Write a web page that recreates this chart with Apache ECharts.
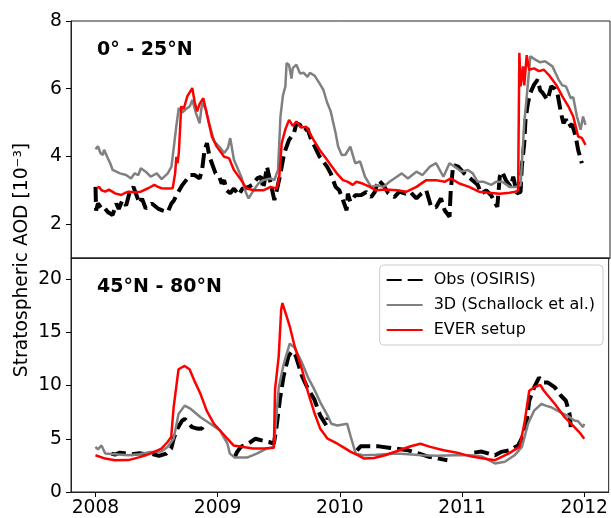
<!DOCTYPE html>
<html><head><meta charset="utf-8">
<script src="https://cdn.jsdelivr.net/npm/echarts@6/dist/echarts.min.js"></script>
<style>html,body{margin:0;padding:0;background:#fff}#c{width:611px;height:518px}</style>
</head><body><div id="c"></div><script>
// ---------- data (decimal years, AOD in 1e-3) ----------
const xTicks = [2008, 2009, 2010, 2011, 2012];
const topTicks = [2, 4, 6, 8];
const botTicks = [0, 5, 10, 15, 20];
const seriesNames = ['Obs (OSIRIS)', '3D (Schallock et al.)', 'EVER setup'];
const panelTitles = ['0° - 25°N', '45°N - 80°N'];

// Top panel: 0-25N
const topObsX = [2008.00,2008.005,2008.02,2008.05,2008.07,2008.10,2008.14,2008.17,2008.19,2008.22,2008.25,2008.28,2008.31,2008.33,2008.36,2008.38,2008.41,2008.46,2008.51,2008.55,2008.59,2008.62,2008.64,2008.67,2008.71,2008.74,2008.77,2008.81,2008.85,2008.87,2008.89,2008.91,2008.93,2008.95,2008.98,2009.01,2009.03,2009.05,2009.07,2009.10,2009.13,2009.17,2009.20,2009.25,2009.28,2009.32,2009.35,2009.37,2009.40,2009.43,2009.46,2009.48,2009.51,2009.54,2009.58,2009.62,2009.64,2009.67,2009.70,2009.73,2009.76,2009.79,2009.83,2009.85,2009.89,2009.92,2009.96,2009.99,2010.02,2010.05,2010.06,2010.08,2010.12,2010.17,2010.21,2010.25,2010.28,2010.31,2010.35,2010.39,2010.44,2010.48,2010.53,2010.57,2010.62,2010.66,2010.70,2010.74,2010.78,2010.82,2010.85,2010.89,2010.90,2010.92,2010.96,2011.01,2011.06,2011.12,2011.15,2011.19,2011.23,2011.28,2011.30,2011.32,2011.35,2011.39,2011.41,2011.44,2011.47,2011.48,2011.50,2011.51,2011.53,2011.55,2011.58,2011.61,2011.63,2011.65,2011.69,2011.72,2011.75,2011.77,2011.80,2011.82,2011.84,2011.86,2011.89,2011.92,2011.94,2011.97];
const topObsY = [3.10,2.40,2.61,2.46,2.50,2.36,2.27,2.61,2.45,2.71,2.55,2.96,3.10,2.90,2.61,2.75,2.46,2.61,2.46,2.40,2.36,2.61,2.70,2.91,3.16,3.30,3.45,3.45,3.35,3.60,4.19,4.39,4.00,3.80,3.50,3.40,3.20,3.30,3.00,2.91,3.05,2.86,3.05,3.10,3.16,3.35,3.40,3.05,3.70,3.20,2.71,3.00,3.50,4.09,4.49,4.69,4.98,4.93,4.75,4.83,4.50,4.29,3.99,3.90,3.70,3.50,3.10,3.00,2.71,2.41,2.90,2.66,2.85,2.86,2.95,2.80,2.95,3.30,3.15,2.91,2.80,2.96,2.90,2.95,2.76,2.90,3.00,2.51,2.50,2.76,2.41,2.22,3.00,3.75,3.70,3.50,3.35,3.16,2.90,3.00,2.85,2.51,3.40,3.55,3.30,3.10,3.40,2.91,2.95,3.70,4.39,5.08,5.58,5.88,6.12,6.27,5.95,5.88,5.67,6.07,6.00,5.88,5.28,4.98,5.10,4.88,4.95,4.59,4.19,3.80];

const top3dX = [2008.00,2008.02,2008.04,2008.06,2008.07,2008.10,2008.12,2008.14,2008.17,2008.20,2008.25,2008.29,2008.32,2008.35,2008.37,2008.41,2008.45,2008.50,2008.54,2008.59,2008.62,2008.64,2008.66,2008.68,2008.71,2008.74,2008.77,2008.79,2008.82,2008.85,2008.87,2008.90,2008.93,2008.97,2009.01,2009.05,2009.08,2009.10,2009.13,2009.16,2009.19,2009.23,2009.25,2009.29,2009.33,2009.37,2009.43,2009.46,2009.49,2009.51,2009.53,2009.55,2009.56,2009.58,2009.60,2009.61,2009.64,2009.67,2009.70,2009.73,2009.75,2009.79,2009.83,2009.86,2009.89,2009.92,2009.96,2009.98,2010.01,2010.04,2010.08,2010.12,2010.16,2010.20,2010.25,2010.30,2010.35,2010.40,2010.46,2010.50,2010.55,2010.62,2010.67,2010.73,2010.78,2010.84,2010.89,2010.93,2010.99,2011.04,2011.08,2011.12,2011.17,2011.23,2011.27,2011.32,2011.38,2011.43,2011.47,2011.50,2011.53,2011.55,2011.59,2011.63,2011.67,2011.73,2011.78,2011.81,2011.84,2011.88,2011.90,2011.93,2011.96,2011.98,2012.00];
const top3dY = [4.21,4.30,4.10,4.04,4.20,3.95,3.80,3.60,3.55,3.50,3.45,3.35,3.50,3.45,3.65,3.55,3.40,3.50,3.33,3.50,3.70,4.29,4.90,5.43,5.30,5.40,5.48,5.67,5.28,4.98,5.58,5.40,4.95,4.44,4.29,4.10,4.24,4.54,3.90,3.65,3.40,2.91,2.76,3.00,3.20,3.30,3.35,3.30,3.60,5.18,5.80,6.07,6.76,6.70,6.30,6.61,6.71,6.45,6.47,6.35,6.47,6.38,6.15,5.97,5.60,5.33,4.69,4.30,4.04,4.05,4.29,3.80,3.85,3.40,3.10,3.15,3.10,3.25,3.40,3.50,3.35,3.55,3.45,3.70,3.80,3.40,3.80,3.70,3.55,3.60,3.50,3.25,3.25,3.16,3.25,3.25,3.10,3.10,3.15,4.98,6.16,6.96,6.86,6.78,6.81,6.66,6.27,6.10,6.07,5.72,5.75,5.18,4.79,5.18,4.93];

const topEverX = [2008.01,2008.03,2008.05,2008.08,2008.11,2008.16,2008.21,2008.24,2008.27,2008.32,2008.37,2008.43,2008.48,2008.51,2008.54,2008.59,2008.63,2008.65,2008.66,2008.67,2008.68,2008.70,2008.72,2008.75,2008.79,2008.81,2008.83,2008.85,2008.88,2008.91,2008.95,2008.99,2009.05,2009.09,2009.13,2009.19,2009.23,2009.29,2009.37,2009.43,2009.48,2009.50,2009.52,2009.55,2009.58,2009.61,2009.64,2009.68,2009.72,2009.78,2009.83,2009.89,2009.92,2009.97,2010.02,2010.06,2010.10,2010.13,2010.18,2010.24,2010.29,2010.37,2010.46,2010.54,2010.62,2010.70,2010.78,2010.85,2010.90,2010.97,2011.05,2011.13,2011.21,2011.30,2011.38,2011.43,2011.45,2011.46,2011.47,2011.49,2011.50,2011.52,2011.54,2011.58,2011.62,2011.66,2011.70,2011.76,2011.81,2011.86,2011.90,2011.94,2011.97,2012.00];
const topEverY = [3.06,3.10,3.00,2.96,3.02,2.91,2.86,2.92,2.96,2.94,2.96,3.06,3.16,3.10,3.06,3.05,3.06,3.50,3.99,3.80,4.10,5.48,5.40,5.78,6.02,5.60,5.33,5.55,5.72,5.23,4.59,4.29,3.99,3.95,3.60,3.30,3.06,3.00,3.00,3.10,3.05,3.40,4.39,4.80,5.08,4.90,5.03,4.85,4.88,4.49,4.19,3.90,3.75,3.50,3.30,3.25,3.16,3.25,3.20,3.10,3.00,3.02,3.00,2.96,3.10,3.30,3.30,3.25,3.35,3.20,3.10,2.96,2.93,2.90,2.93,2.96,3.00,7.06,6.07,6.66,6.10,6.99,6.56,6.60,6.52,6.56,6.41,6.12,5.78,5.48,5.18,4.59,4.55,4.34];

// Bottom panel: 45N-80N (null = no observation)
const botObsX = [2008.13,2008.16,2008.20,2008.25,2008.30,2008.36,2008.41,2008.46,2008.52,2008.58,2008.62,2008.64,2008.67,2008.71,2008.73,2008.76,2008.79,2008.82,2008.85,2008.87,2008.89,2008.90,2009.00,2009.14,2009.16,2009.19,2009.25,2009.31,2009.36,2009.42,2009.46,2009.48,2009.51,2009.54,2009.58,2009.61,2009.64,2009.69,2009.74,2009.79,2009.84,2009.89,2009.90,2010.00,2010.14,2010.17,2010.24,2010.32,2010.40,2010.48,2010.56,2010.65,2010.73,2010.81,2010.88,2011.00,2011.10,2011.16,2011.22,2011.27,2011.32,2011.39,2011.46,2011.50,2011.53,2011.55,2011.59,2011.63,2011.66,2011.70,2011.76,2011.81,2011.85,2011.88,2011.89];
const botObsY = [3.61,3.52,3.70,3.61,3.55,3.65,3.55,3.60,3.39,3.61,4.08,5.01,5.94,6.72,6.88,6.50,6.10,6.00,5.94,6.00,5.63,5.48,null,3.30,3.77,4.24,4.54,5.01,4.85,4.70,4.54,5.94,8.74,10.91,12.78,13.25,12.78,10.91,9.67,8.74,7.18,6.25,7.00,null,3.92,4.29,4.29,4.29,4.17,4.05,3.92,3.61,3.30,3.14,2.99,null,3.70,3.80,3.60,3.45,3.77,3.92,4.38,5.32,6.72,8.58,9.83,10.76,10.30,10.30,9.83,9.05,8.58,7.34,6.10];

const bot3dX = [2008.00,2008.02,2008.05,2008.08,2008.16,2008.27,2008.36,2008.45,2008.54,2008.59,2008.64,2008.68,2008.73,2008.78,2008.86,2008.94,2009.02,2009.08,2009.10,2009.14,2009.24,2009.32,2009.40,2009.46,2009.50,2009.54,2009.59,2009.63,2009.69,2009.74,2009.79,2009.84,2009.90,2009.93,2009.98,2010.06,2010.09,2010.13,2010.19,2010.30,2010.46,2010.56,2010.67,2010.80,2010.94,2011.08,2011.16,2011.27,2011.35,2011.43,2011.49,2011.54,2011.59,2011.65,2011.69,2011.73,2011.78,2011.86,2011.92,2011.95,2011.99,2012.00];
const bot3dY = [4.24,4.00,4.38,3.61,3.55,3.45,3.55,3.77,3.80,4.24,5.01,7.34,8.12,7.81,7.03,6.41,5.78,4.54,3.61,3.24,3.24,3.61,4.08,4.24,9.83,12.00,13.95,13.56,12.16,10.76,9.67,8.43,7.18,6.41,6.25,6.41,5.17,3.61,3.45,3.50,3.61,3.55,3.45,3.40,3.45,3.45,3.35,2.68,2.84,3.45,4.24,6.41,7.65,8.27,8.10,7.97,7.65,7.18,6.72,6.65,6.10,6.40];

const botEverX = [2008.00,2008.08,2008.16,2008.27,2008.37,2008.45,2008.54,2008.59,2008.62,2008.64,2008.68,2008.73,2008.77,2008.81,2008.86,2008.91,2008.97,2009.02,2009.08,2009.13,2009.21,2009.29,2009.38,2009.46,2009.47,2009.50,2009.52,2009.53,2009.56,2009.59,2009.63,2009.69,2009.74,2009.79,2009.84,2009.90,2009.98,2010.03,2010.09,2010.15,2010.20,2010.28,2010.37,2010.47,2010.58,2010.66,2010.74,2010.85,2010.96,2011.07,2011.15,2011.27,2011.38,2011.47,2011.51,2011.55,2011.59,2011.64,2011.67,2011.76,2011.84,2011.92,2011.97,2012.00];
const botEverY = [3.45,3.14,2.99,3.00,3.30,3.61,4.08,4.70,5.17,7.97,11.54,11.85,11.54,10.45,9.21,7.65,6.41,5.78,5.01,4.38,4.24,4.08,4.10,4.15,9.67,12.78,17.14,17.76,16.67,15.58,13.71,11.54,9.37,7.50,5.94,5.01,4.54,4.20,3.77,3.45,3.14,3.20,3.45,3.85,4.30,4.54,4.24,3.92,3.70,3.35,3.20,2.99,3.61,4.24,6.41,9.52,9.83,10.08,9.52,8.27,7.03,6.10,5.48,5.01];

// ---------- chart ----------
const FONT = 'DejaVu Sans';
const zip = (xs, ys) => xs.map((x, i) => [x, ys[i] === null ? '-' : ys[i]]);
const styles = [
  {color: '#000000', width: 4, type: [15, 6]},
  {color: '#808080', width: 2.5, type: 'solid'},
  {color: '#ff0000', width: 2.5, type: 'solid'}
];
function mk(name, idx, data, styleIdx, z) {
  const s = styles[styleIdx];
  return {
    type: 'line', name: name, xAxisIndex: idx, yAxisIndex: idx, data: data,
    showSymbol: false, symbol: 'none', z: z,
    lineStyle: {color: s.color, width: s.width, type: s.type},
    itemStyle: {color: s.color}, connectNulls: false, animation: false
  };
}
const xBase = (idx, showLabels) => ({
  type: 'value', gridIndex: idx, min: 2007.8, max: 2012.2,
  splitLine: {show: false},
  axisLine: {show: true, lineStyle: {color: '#222', width: 1}},
  axisTick: {show: showLabels, inside: false, length: 5, lineStyle: {color: '#000'}, customValues: xTicks},
  axisLabel: {show: showLabels, customValues: xTicks, margin: 7, color: '#000', fontSize: 18.7, fontFamily: FONT,
    formatter: v => String(Math.round(v))}
});
const yBase = (idx, min, max, ticks) => ({
  type: 'value', gridIndex: idx, min: min, max: max,
  splitLine: {show: false},
  axisLine: {show: true, lineStyle: {color: '#222', width: 1}},
  axisTick: {show: true, inside: false, length: 5, lineStyle: {color: '#000'}, customValues: ticks},
  axisLabel: {show: true, customValues: ticks, margin: 9, color: '#000', fontSize: 18.7, fontFamily: FONT,
    formatter: v => String(Math.round(v))}
});

const chart = echarts.init(document.getElementById('c'), null, {renderer: 'canvas'});
chart.setOption({
  animation: false,
  backgroundColor: '#fff',
  grid: [
    {left: 71, top: 21, width: 539, height: 237, show: true, borderColor: '#222', borderWidth: 1, backgroundColor: 'transparent'},
    {left: 71, top: 258, width: 539, height: 236, show: true, borderColor: '#222', borderWidth: 1, backgroundColor: 'transparent'}
  ],
  xAxis: [xBase(0, false), xBase(1, true)],
  yAxis: [yBase(0, 1, 8, topTicks), yBase(1, 0, 22, botTicks)],
  legend: {
    orient: 'vertical', right: 8, top: 265,
    data: seriesNames,
    backgroundColor: 'rgba(255,255,255,0.85)', borderColor: '#cccccc', borderWidth: 1, borderRadius: 4,
    padding: [7, 8, 7, 6], itemWidth: 36, itemHeight: 14, itemGap: 9,
    itemStyle: {opacity: 0, borderWidth: 0},
    textStyle: {fontSize: 16, fontFamily: FONT, color: '#000', padding: [0, 0, 0, 6]}
  },
  graphic: [
    {type: 'text', x: 22, y: 260, rotation: Math.PI / 2,
      style: {text: 'Stratospheric AOD [10⁻³]', fontSize: 18.7, fontFamily: FONT, fill: '#000', align: 'center', verticalAlign: 'middle'}},
    {type: 'text', x: 97, y: 50, z: 10,
      style: {text: panelTitles[0], fontSize: 19, fontWeight: 'bold', fontFamily: FONT, fill: '#000', align: 'left', verticalAlign: 'middle'}},
    {type: 'text', x: 97, y: 287, z: 10,
      style: {text: panelTitles[1], fontSize: 19, fontWeight: 'bold', fontFamily: FONT, fill: '#000', align: 'left', verticalAlign: 'middle'}}
  ],
  series: [
    mk(seriesNames[0], 0, zip(topObsX, topObsY), 0, 2),
    mk(seriesNames[1], 0, zip(top3dX, top3dY), 1, 3),
    mk(seriesNames[2], 0, zip(topEverX, topEverY), 2, 4),
    mk(seriesNames[0], 1, zip(botObsX, botObsY), 0, 2),
    mk(seriesNames[1], 1, zip(bot3dX, bot3dY), 1, 3),
    mk(seriesNames[2], 1, zip(botEverX, botEverY), 2, 4)
  ]
});
</script></body></html>
